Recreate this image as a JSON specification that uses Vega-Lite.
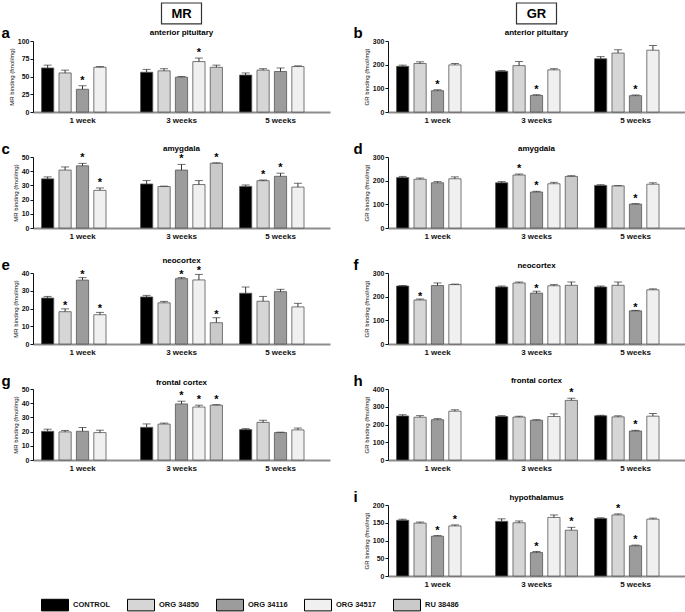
{
"$schema":"https://vega.github.io/schema/vega-lite/v6.json",
"padding":{"left":1,"top":2,"right":1,"bottom":0},
"background":"white",
"datasets":{
"panels":[
{"panel":"a","tissue":"anterior pituitary","receptor":"MR"},
{"panel":"b","tissue":"anterior pituitary","receptor":"GR"},
{"panel":"c","tissue":"amygdala","receptor":"MR"},
{"panel":"d","tissue":"amygdala","receptor":"GR"},
{"panel":"e","tissue":"neocortex","receptor":"MR"},
{"panel":"f","tissue":"neocortex","receptor":"GR"},
{"panel":"g","tissue":"frontal cortex","receptor":"MR"},
{"panel":"h","tissue":"frontal cortex","receptor":"GR"},
{"panel":"i","tissue":"hypothalamus","receptor":"GR"}
],
"bars":[
{"panel":"a","week":"1 week","group":"CONTROL","value":62,"err":66,"sig":""},
{"panel":"a","week":"1 week","group":"ORG 34850","value":55,"err":59,"sig":""},
{"panel":"a","week":"1 week","group":"ORG 34116","value":32,"err":37,"sig":"*"},
{"panel":"a","week":"1 week","group":"ORG 34517","value":63,"err":64,"sig":""},
{"panel":"a","week":"3 weeks","group":"CONTROL","value":56,"err":60,"sig":""},
{"panel":"a","week":"3 weeks","group":"ORG 34850","value":58,"err":61,"sig":""},
{"panel":"a","week":"3 weeks","group":"ORG 34116","value":49,"err":50,"sig":""},
{"panel":"a","week":"3 weeks","group":"ORG 34517","value":71,"err":76,"sig":"*"},
{"panel":"a","week":"3 weeks","group":"RU 38486","value":63,"err":66,"sig":""},
{"panel":"a","week":"5 weeks","group":"CONTROL","value":52,"err":55,"sig":""},
{"panel":"a","week":"5 weeks","group":"ORG 34850","value":59,"err":61,"sig":""},
{"panel":"a","week":"5 weeks","group":"ORG 34116","value":57,"err":62,"sig":""},
{"panel":"a","week":"5 weeks","group":"ORG 34517","value":64,"err":65,"sig":""},
{"panel":"b","week":"1 week","group":"CONTROL","value":193,"err":198,"sig":""},
{"panel":"b","week":"1 week","group":"ORG 34850","value":205,"err":212,"sig":""},
{"panel":"b","week":"1 week","group":"ORG 34116","value":90,"err":94,"sig":"*"},
{"panel":"b","week":"1 week","group":"ORG 34517","value":199,"err":205,"sig":""},
{"panel":"b","week":"3 weeks","group":"CONTROL","value":172,"err":175,"sig":""},
{"panel":"b","week":"3 weeks","group":"ORG 34850","value":196,"err":213,"sig":""},
{"panel":"b","week":"3 weeks","group":"ORG 34116","value":70,"err":73,"sig":"*"},
{"panel":"b","week":"3 weeks","group":"ORG 34517","value":178,"err":183,"sig":""},
{"panel":"b","week":"5 weeks","group":"CONTROL","value":225,"err":234,"sig":""},
{"panel":"b","week":"5 weeks","group":"ORG 34850","value":249,"err":263,"sig":""},
{"panel":"b","week":"5 weeks","group":"ORG 34116","value":69,"err":72,"sig":"*"},
{"panel":"b","week":"5 weeks","group":"ORG 34517","value":261,"err":281,"sig":""},
{"panel":"c","week":"1 week","group":"CONTROL","value":34.6,"err":36,"sig":""},
{"panel":"c","week":"1 week","group":"ORG 34850","value":40.8,"err":43,"sig":""},
{"panel":"c","week":"1 week","group":"ORG 34116","value":43.8,"err":45.5,"sig":"*"},
{"panel":"c","week":"1 week","group":"ORG 34517","value":26.5,"err":28.2,"sig":"*"},
{"panel":"c","week":"3 weeks","group":"CONTROL","value":31,"err":33.4,"sig":""},
{"panel":"c","week":"3 weeks","group":"ORG 34850","value":29.2,"err":29.5,"sig":""},
{"panel":"c","week":"3 weeks","group":"ORG 34116","value":40.8,"err":44.8,"sig":"*"},
{"panel":"c","week":"3 weeks","group":"ORG 34517","value":30.6,"err":33.4,"sig":""},
{"panel":"c","week":"3 weeks","group":"RU 38486","value":45.6,"err":45.9,"sig":"*"},
{"panel":"c","week":"5 weeks","group":"CONTROL","value":29.3,"err":30.3,"sig":""},
{"panel":"c","week":"5 weeks","group":"ORG 34850","value":33.3,"err":33.8,"sig":"*"},
{"panel":"c","week":"5 weeks","group":"ORG 34116","value":36.4,"err":38.6,"sig":"*"},
{"panel":"c","week":"5 weeks","group":"ORG 34517","value":28.8,"err":31.5,"sig":""},
{"panel":"d","week":"1 week","group":"CONTROL","value":213,"err":218,"sig":""},
{"panel":"d","week":"1 week","group":"ORG 34850","value":206,"err":211,"sig":""},
{"panel":"d","week":"1 week","group":"ORG 34116","value":191,"err":196,"sig":""},
{"panel":"d","week":"1 week","group":"ORG 34517","value":208,"err":216,"sig":""},
{"panel":"d","week":"3 weeks","group":"CONTROL","value":191,"err":196,"sig":""},
{"panel":"d","week":"3 weeks","group":"ORG 34850","value":224,"err":228,"sig":"*"},
{"panel":"d","week":"3 weeks","group":"ORG 34116","value":152,"err":155,"sig":"*"},
{"panel":"d","week":"3 weeks","group":"ORG 34517","value":187,"err":193,"sig":""},
{"panel":"d","week":"3 weeks","group":"RU 38486","value":218,"err":221,"sig":""},
{"panel":"d","week":"5 weeks","group":"CONTROL","value":180,"err":183,"sig":""},
{"panel":"d","week":"5 weeks","group":"ORG 34850","value":178,"err":179,"sig":""},
{"panel":"d","week":"5 weeks","group":"ORG 34116","value":101,"err":103,"sig":"*"},
{"panel":"d","week":"5 weeks","group":"ORG 34517","value":185,"err":191,"sig":""},
{"panel":"e","week":"1 week","group":"CONTROL","value":25.9,"err":26.8,"sig":""},
{"panel":"e","week":"1 week","group":"ORG 34850","value":18.2,"err":19.8,"sig":"*"},
{"panel":"e","week":"1 week","group":"ORG 34116","value":36,"err":37.4,"sig":"*"},
{"panel":"e","week":"1 week","group":"ORG 34517","value":16.5,"err":17.8,"sig":"*"},
{"panel":"e","week":"3 weeks","group":"CONTROL","value":26.5,"err":27.4,"sig":""},
{"panel":"e","week":"3 weeks","group":"ORG 34850","value":23.2,"err":24,"sig":""},
{"panel":"e","week":"3 weeks","group":"ORG 34116","value":36.8,"err":37.4,"sig":"*"},
{"panel":"e","week":"3 weeks","group":"ORG 34517","value":36.1,"err":39.2,"sig":"*"},
{"panel":"e","week":"3 weeks","group":"RU 38486","value":12,"err":14.8,"sig":"*"},
{"panel":"e","week":"5 weeks","group":"CONTROL","value":28.6,"err":32.1,"sig":""},
{"panel":"e","week":"5 weeks","group":"ORG 34850","value":24.1,"err":26.8,"sig":""},
{"panel":"e","week":"5 weeks","group":"ORG 34116","value":29.5,"err":30.8,"sig":""},
{"panel":"e","week":"5 weeks","group":"ORG 34517","value":20.9,"err":22.9,"sig":""},
{"panel":"f","week":"1 week","group":"CONTROL","value":245,"err":247,"sig":""},
{"panel":"f","week":"1 week","group":"ORG 34850","value":186,"err":190,"sig":"*"},
{"panel":"f","week":"1 week","group":"ORG 34116","value":247,"err":258,"sig":""},
{"panel":"f","week":"1 week","group":"ORG 34517","value":251,"err":253,"sig":""},
{"panel":"f","week":"3 weeks","group":"CONTROL","value":241,"err":245,"sig":""},
{"panel":"f","week":"3 weeks","group":"ORG 34850","value":258,"err":262,"sig":""},
{"panel":"f","week":"3 weeks","group":"ORG 34116","value":215,"err":223,"sig":"*"},
{"panel":"f","week":"3 weeks","group":"ORG 34517","value":246,"err":251,"sig":""},
{"panel":"f","week":"3 weeks","group":"RU 38486","value":248,"err":262,"sig":""},
{"panel":"f","week":"5 weeks","group":"CONTROL","value":241,"err":245,"sig":""},
{"panel":"f","week":"5 weeks","group":"ORG 34850","value":248,"err":262,"sig":""},
{"panel":"f","week":"5 weeks","group":"ORG 34116","value":140,"err":142,"sig":"*"},
{"panel":"f","week":"5 weeks","group":"ORG 34517","value":229,"err":233,"sig":""},
{"panel":"g","week":"1 week","group":"CONTROL","value":20.2,"err":21.7,"sig":""},
{"panel":"g","week":"1 week","group":"ORG 34850","value":19.8,"err":20.8,"sig":""},
{"panel":"g","week":"1 week","group":"ORG 34116","value":20.2,"err":22.9,"sig":""},
{"panel":"g","week":"1 week","group":"ORG 34517","value":19.3,"err":21,"sig":""},
{"panel":"g","week":"3 weeks","group":"CONTROL","value":23,"err":25.4,"sig":""},
{"panel":"g","week":"3 weeks","group":"ORG 34850","value":25.3,"err":26,"sig":""},
{"panel":"g","week":"3 weeks","group":"ORG 34116","value":39.5,"err":41.4,"sig":"*"},
{"panel":"g","week":"3 weeks","group":"ORG 34517","value":37.3,"err":38.6,"sig":"*"},
{"panel":"g","week":"3 weeks","group":"RU 38486","value":38.6,"err":39,"sig":"*"},
{"panel":"g","week":"5 weeks","group":"CONTROL","value":21.4,"err":22.1,"sig":""},
{"panel":"g","week":"5 weeks","group":"ORG 34850","value":26.5,"err":28,"sig":""},
{"panel":"g","week":"5 weeks","group":"ORG 34116","value":19.3,"err":19.6,"sig":""},
{"panel":"g","week":"5 weeks","group":"ORG 34517","value":21.2,"err":22.5,"sig":""},
{"panel":"h","week":"1 week","group":"CONTROL","value":248,"err":255,"sig":""},
{"panel":"h","week":"1 week","group":"ORG 34850","value":241,"err":250,"sig":""},
{"panel":"h","week":"1 week","group":"ORG 34116","value":227,"err":233,"sig":""},
{"panel":"h","week":"1 week","group":"ORG 34517","value":275,"err":283,"sig":""},
{"panel":"h","week":"3 weeks","group":"CONTROL","value":245,"err":250,"sig":""},
{"panel":"h","week":"3 weeks","group":"ORG 34850","value":242,"err":246,"sig":""},
{"panel":"h","week":"3 weeks","group":"ORG 34116","value":224,"err":227,"sig":""},
{"panel":"h","week":"3 weeks","group":"ORG 34517","value":245,"err":260,"sig":""},
{"panel":"h","week":"3 weeks","group":"RU 38486","value":336,"err":348,"sig":"*"},
{"panel":"h","week":"5 weeks","group":"CONTROL","value":249,"err":252,"sig":""},
{"panel":"h","week":"5 weeks","group":"ORG 34850","value":243,"err":249,"sig":""},
{"panel":"h","week":"5 weeks","group":"ORG 34116","value":163,"err":167,"sig":"*"},
{"panel":"h","week":"5 weeks","group":"ORG 34517","value":247,"err":262,"sig":""},
{"panel":"i","week":"1 week","group":"CONTROL","value":157,"err":160,"sig":""},
{"panel":"i","week":"1 week","group":"ORG 34850","value":149,"err":152,"sig":""},
{"panel":"i","week":"1 week","group":"ORG 34116","value":112,"err":114,"sig":"*"},
{"panel":"i","week":"1 week","group":"ORG 34517","value":141,"err":144,"sig":"*"},
{"panel":"i","week":"3 weeks","group":"CONTROL","value":154,"err":161,"sig":""},
{"panel":"i","week":"3 weeks","group":"ORG 34850","value":150,"err":155,"sig":""},
{"panel":"i","week":"3 weeks","group":"ORG 34116","value":66,"err":69,"sig":"*"},
{"panel":"i","week":"3 weeks","group":"ORG 34517","value":165,"err":172,"sig":""},
{"panel":"i","week":"3 weeks","group":"RU 38486","value":129,"err":137,"sig":"*"},
{"panel":"i","week":"5 weeks","group":"CONTROL","value":162,"err":164,"sig":""},
{"panel":"i","week":"5 weeks","group":"ORG 34850","value":172,"err":175,"sig":"*"},
{"panel":"i","week":"5 weeks","group":"ORG 34116","value":85,"err":87,"sig":"*"},
{"panel":"i","week":"5 weeks","group":"ORG 34517","value":160,"err":163,"sig":""}
]},
"columns":2,
"spacing":{"row":45,"column":58},
"bounds":"flush",
"resolve":{"scale":{"y":"independent","x":"independent","xOffset":"independent"}},
"concat":[
{"width":297,"height":71,"layer":[
 {"data":{"name":"bars"},"transform":[{"filter":"datum.panel==='a'"}],"mark":{"type":"bar","stroke":"#555","strokeWidth":0.8},"encoding":{"x":{"field":"week","type":"nominal","title":null,"scale":{"domain":["1 week","3 weeks","5 weeks"],"paddingInner":0.12,"paddingOuter":0.06}},"xOffset":{"field":"group","type":"nominal","scale":{"domain":["CONTROL","ORG 34850","ORG 34116","ORG 34517","RU 38486"],"paddingInner":0.3,"paddingOuter":0.15}},"y":{"field":"value","type":"quantitative","title":"MR binding (fmol/mg)","scale":{"domain":[0,100],"nice":false},"axis":{"values":[0,25,50,75,100]}},"fill":{"field":"group","type":"nominal","title":null,"scale":{"domain":["CONTROL","ORG 34850","ORG 34116","ORG 34517","RU 38486"],"range":["#000000","#d6d6d6","#9c9c9c","#f0f0f0","#cacaca"]}}}},
 {"data":{"name":"bars"},"transform":[{"filter":"datum.panel==='a'"}],"mark":{"type":"rule","color":"#333","strokeWidth":1},"encoding":{"x":{"field":"week","type":"nominal","title":null},"xOffset":{"field":"group","type":"nominal"},"y":{"field":"value","type":"quantitative","title":"MR binding (fmol/mg)","axis":{"values":[0,25,50,75,100]}},"y2":{"field":"err"}}},
 {"data":{"name":"bars"},"transform":[{"filter":"datum.panel==='a'"}],"mark":{"type":"tick","color":"#333","thickness":1,"size":8},"encoding":{"x":{"field":"week","type":"nominal","title":null},"xOffset":{"field":"group","type":"nominal"},"y":{"field":"err","type":"quantitative","title":"MR binding (fmol/mg)","axis":{"values":[0,25,50,75,100]}}}},
 {"data":{"name":"bars"},"transform":[{"filter":"datum.panel==='a' && datum.sig==='*'"}],"mark":{"type":"text","fontSize":11,"fontWeight":"bold","dy":-2,"baseline":"alphabetic"},"encoding":{"x":{"field":"week","type":"nominal","title":null},"xOffset":{"field":"group","type":"nominal"},"y":{"field":"err","type":"quantitative","title":"MR binding (fmol/mg)","axis":{"values":[0,25,50,75,100]}},"text":{"field":"sig"}}},
 {"data":{"name":"panels"},"transform":[{"filter":"datum.panel==='a'"}],"mark":{"type":"text","fontSize":8,"fontWeight":"bold","dy":-6,"baseline":"alphabetic"},"encoding":{"x":{"datum":"3 weeks"},"y":{"datum":100,"axis":{"values":[0,25,50,75,100]}},"text":{"field":"tissue"}}},
 {"data":{"name":"panels"},"transform":[{"filter":"datum.panel==='a'"}],"mark":{"type":"text","fontSize":15,"fontWeight":"bold","align":"left","baseline":"alphabetic","dx":-81,"dy":-3},"encoding":{"x":{"datum":"1 week"},"y":{"datum":100,"axis":{"values":[0,25,50,75,100]}},"text":{"field":"panel"}}},
 {"data":{"name":"panels"},"transform":[{"filter":"datum.panel==='a'"}],"mark":{"type":"bar","width":40,"fill":"white","stroke":"#333","strokeWidth":1.2},"encoding":{"x":{"datum":"3 weeks"},"y":{"datum":124,"axis":{"values":[0,25,50,75,100]}},"y2":{"datum":153.5}}},
 {"data":{"name":"panels"},"transform":[{"filter":"datum.panel==='a'"}],"mark":{"type":"text","fontSize":13,"fontWeight":"bold","baseline":"middle"},"encoding":{"x":{"datum":"3 weeks"},"y":{"datum":138,"axis":{"values":[0,25,50,75,100]}},"text":{"field":"receptor"}}}
]},
{"width":297,"height":71,"layer":[
 {"data":{"name":"bars"},"transform":[{"filter":"datum.panel==='b'"}],"mark":{"type":"bar","stroke":"#555","strokeWidth":0.8},"encoding":{"x":{"field":"week","type":"nominal","title":null,"scale":{"domain":["1 week","3 weeks","5 weeks"],"paddingInner":0.12,"paddingOuter":0.06}},"xOffset":{"field":"group","type":"nominal","scale":{"domain":["CONTROL","ORG 34850","ORG 34116","ORG 34517","RU 38486"],"paddingInner":0.3,"paddingOuter":0.15}},"y":{"field":"value","type":"quantitative","title":"GR binding (fmol/mg)","scale":{"domain":[0,300],"nice":false},"axis":{"values":[0,100,200,300]}},"fill":{"field":"group","type":"nominal","title":null,"scale":{"domain":["CONTROL","ORG 34850","ORG 34116","ORG 34517","RU 38486"],"range":["#000000","#d6d6d6","#9c9c9c","#f0f0f0","#cacaca"]}}}},
 {"data":{"name":"bars"},"transform":[{"filter":"datum.panel==='b'"}],"mark":{"type":"rule","color":"#333","strokeWidth":1},"encoding":{"x":{"field":"week","type":"nominal","title":null},"xOffset":{"field":"group","type":"nominal"},"y":{"field":"value","type":"quantitative","title":"GR binding (fmol/mg)","axis":{"values":[0,100,200,300]}},"y2":{"field":"err"}}},
 {"data":{"name":"bars"},"transform":[{"filter":"datum.panel==='b'"}],"mark":{"type":"tick","color":"#333","thickness":1,"size":8},"encoding":{"x":{"field":"week","type":"nominal","title":null},"xOffset":{"field":"group","type":"nominal"},"y":{"field":"err","type":"quantitative","title":"GR binding (fmol/mg)","axis":{"values":[0,100,200,300]}}}},
 {"data":{"name":"bars"},"transform":[{"filter":"datum.panel==='b' && datum.sig==='*'"}],"mark":{"type":"text","fontSize":11,"fontWeight":"bold","dy":-2,"baseline":"alphabetic"},"encoding":{"x":{"field":"week","type":"nominal","title":null},"xOffset":{"field":"group","type":"nominal"},"y":{"field":"err","type":"quantitative","title":"GR binding (fmol/mg)","axis":{"values":[0,100,200,300]}},"text":{"field":"sig"}}},
 {"data":{"name":"panels"},"transform":[{"filter":"datum.panel==='b'"}],"mark":{"type":"text","fontSize":8,"fontWeight":"bold","dy":-6,"baseline":"alphabetic"},"encoding":{"x":{"datum":"3 weeks"},"y":{"datum":300,"axis":{"values":[0,100,200,300]}},"text":{"field":"tissue"}}},
 {"data":{"name":"panels"},"transform":[{"filter":"datum.panel==='b'"}],"mark":{"type":"text","fontSize":15,"fontWeight":"bold","align":"left","baseline":"alphabetic","dx":-84,"dy":-3},"encoding":{"x":{"datum":"1 week"},"y":{"datum":300,"axis":{"values":[0,100,200,300]}},"text":{"field":"panel"}}},
 {"data":{"name":"panels"},"transform":[{"filter":"datum.panel==='b'"}],"mark":{"type":"bar","width":40,"fill":"white","stroke":"#333","strokeWidth":1.2},"encoding":{"x":{"datum":"3 weeks"},"y":{"datum":372,"axis":{"values":[0,100,200,300]}},"y2":{"datum":460.6}}},
 {"data":{"name":"panels"},"transform":[{"filter":"datum.panel==='b'"}],"mark":{"type":"text","fontSize":13,"fontWeight":"bold","baseline":"middle"},"encoding":{"x":{"datum":"3 weeks"},"y":{"datum":414,"axis":{"values":[0,100,200,300]}},"text":{"field":"receptor"}}}
]},
{"width":297,"height":71,"layer":[
 {"data":{"name":"bars"},"transform":[{"filter":"datum.panel==='c'"}],"mark":{"type":"bar","stroke":"#555","strokeWidth":0.8},"encoding":{"x":{"field":"week","type":"nominal","title":null,"scale":{"domain":["1 week","3 weeks","5 weeks"],"paddingInner":0.12,"paddingOuter":0.06}},"xOffset":{"field":"group","type":"nominal","scale":{"domain":["CONTROL","ORG 34850","ORG 34116","ORG 34517","RU 38486"],"paddingInner":0.3,"paddingOuter":0.15}},"y":{"field":"value","type":"quantitative","title":"MR binding (fmol/mg)","scale":{"domain":[0,50],"nice":false},"axis":{"values":[0,10,20,30,40,50]}},"fill":{"field":"group","type":"nominal","title":null,"scale":{"domain":["CONTROL","ORG 34850","ORG 34116","ORG 34517","RU 38486"],"range":["#000000","#d6d6d6","#9c9c9c","#f0f0f0","#cacaca"]}}}},
 {"data":{"name":"bars"},"transform":[{"filter":"datum.panel==='c'"}],"mark":{"type":"rule","color":"#333","strokeWidth":1},"encoding":{"x":{"field":"week","type":"nominal","title":null},"xOffset":{"field":"group","type":"nominal"},"y":{"field":"value","type":"quantitative","title":"MR binding (fmol/mg)","axis":{"values":[0,10,20,30,40,50]}},"y2":{"field":"err"}}},
 {"data":{"name":"bars"},"transform":[{"filter":"datum.panel==='c'"}],"mark":{"type":"tick","color":"#333","thickness":1,"size":8},"encoding":{"x":{"field":"week","type":"nominal","title":null},"xOffset":{"field":"group","type":"nominal"},"y":{"field":"err","type":"quantitative","title":"MR binding (fmol/mg)","axis":{"values":[0,10,20,30,40,50]}}}},
 {"data":{"name":"bars"},"transform":[{"filter":"datum.panel==='c' && datum.sig==='*'"}],"mark":{"type":"text","fontSize":11,"fontWeight":"bold","dy":-2,"baseline":"alphabetic"},"encoding":{"x":{"field":"week","type":"nominal","title":null},"xOffset":{"field":"group","type":"nominal"},"y":{"field":"err","type":"quantitative","title":"MR binding (fmol/mg)","axis":{"values":[0,10,20,30,40,50]}},"text":{"field":"sig"}}},
 {"data":{"name":"panels"},"transform":[{"filter":"datum.panel==='c'"}],"mark":{"type":"text","fontSize":8,"fontWeight":"bold","dy":-6,"baseline":"alphabetic"},"encoding":{"x":{"datum":"3 weeks"},"y":{"datum":50,"axis":{"values":[0,10,20,30,40,50]}},"text":{"field":"tissue"}}},
 {"data":{"name":"panels"},"transform":[{"filter":"datum.panel==='c'"}],"mark":{"type":"text","fontSize":15,"fontWeight":"bold","align":"left","baseline":"alphabetic","dx":-81,"dy":-3},"encoding":{"x":{"datum":"1 week"},"y":{"datum":50,"axis":{"values":[0,10,20,30,40,50]}},"text":{"field":"panel"}}}
]},
{"width":297,"height":71,"layer":[
 {"data":{"name":"bars"},"transform":[{"filter":"datum.panel==='d'"}],"mark":{"type":"bar","stroke":"#555","strokeWidth":0.8},"encoding":{"x":{"field":"week","type":"nominal","title":null,"scale":{"domain":["1 week","3 weeks","5 weeks"],"paddingInner":0.12,"paddingOuter":0.06}},"xOffset":{"field":"group","type":"nominal","scale":{"domain":["CONTROL","ORG 34850","ORG 34116","ORG 34517","RU 38486"],"paddingInner":0.3,"paddingOuter":0.15}},"y":{"field":"value","type":"quantitative","title":"GR binding (fmol/mg)","scale":{"domain":[0,300],"nice":false},"axis":{"values":[0,100,200,300]}},"fill":{"field":"group","type":"nominal","title":null,"scale":{"domain":["CONTROL","ORG 34850","ORG 34116","ORG 34517","RU 38486"],"range":["#000000","#d6d6d6","#9c9c9c","#f0f0f0","#cacaca"]}}}},
 {"data":{"name":"bars"},"transform":[{"filter":"datum.panel==='d'"}],"mark":{"type":"rule","color":"#333","strokeWidth":1},"encoding":{"x":{"field":"week","type":"nominal","title":null},"xOffset":{"field":"group","type":"nominal"},"y":{"field":"value","type":"quantitative","title":"GR binding (fmol/mg)","axis":{"values":[0,100,200,300]}},"y2":{"field":"err"}}},
 {"data":{"name":"bars"},"transform":[{"filter":"datum.panel==='d'"}],"mark":{"type":"tick","color":"#333","thickness":1,"size":8},"encoding":{"x":{"field":"week","type":"nominal","title":null},"xOffset":{"field":"group","type":"nominal"},"y":{"field":"err","type":"quantitative","title":"GR binding (fmol/mg)","axis":{"values":[0,100,200,300]}}}},
 {"data":{"name":"bars"},"transform":[{"filter":"datum.panel==='d' && datum.sig==='*'"}],"mark":{"type":"text","fontSize":11,"fontWeight":"bold","dy":-2,"baseline":"alphabetic"},"encoding":{"x":{"field":"week","type":"nominal","title":null},"xOffset":{"field":"group","type":"nominal"},"y":{"field":"err","type":"quantitative","title":"GR binding (fmol/mg)","axis":{"values":[0,100,200,300]}},"text":{"field":"sig"}}},
 {"data":{"name":"panels"},"transform":[{"filter":"datum.panel==='d'"}],"mark":{"type":"text","fontSize":8,"fontWeight":"bold","dy":-6,"baseline":"alphabetic"},"encoding":{"x":{"datum":"3 weeks"},"y":{"datum":300,"axis":{"values":[0,100,200,300]}},"text":{"field":"tissue"}}},
 {"data":{"name":"panels"},"transform":[{"filter":"datum.panel==='d'"}],"mark":{"type":"text","fontSize":15,"fontWeight":"bold","align":"left","baseline":"alphabetic","dx":-84,"dy":-3},"encoding":{"x":{"datum":"1 week"},"y":{"datum":300,"axis":{"values":[0,100,200,300]}},"text":{"field":"panel"}}}
]},
{"width":297,"height":71,"layer":[
 {"data":{"name":"bars"},"transform":[{"filter":"datum.panel==='e'"}],"mark":{"type":"bar","stroke":"#555","strokeWidth":0.8},"encoding":{"x":{"field":"week","type":"nominal","title":null,"scale":{"domain":["1 week","3 weeks","5 weeks"],"paddingInner":0.12,"paddingOuter":0.06}},"xOffset":{"field":"group","type":"nominal","scale":{"domain":["CONTROL","ORG 34850","ORG 34116","ORG 34517","RU 38486"],"paddingInner":0.3,"paddingOuter":0.15}},"y":{"field":"value","type":"quantitative","title":"MR binding (fmol/mg)","scale":{"domain":[0,40],"nice":false},"axis":{"values":[0,10,20,30,40]}},"fill":{"field":"group","type":"nominal","title":null,"scale":{"domain":["CONTROL","ORG 34850","ORG 34116","ORG 34517","RU 38486"],"range":["#000000","#d6d6d6","#9c9c9c","#f0f0f0","#cacaca"]}}}},
 {"data":{"name":"bars"},"transform":[{"filter":"datum.panel==='e'"}],"mark":{"type":"rule","color":"#333","strokeWidth":1},"encoding":{"x":{"field":"week","type":"nominal","title":null},"xOffset":{"field":"group","type":"nominal"},"y":{"field":"value","type":"quantitative","title":"MR binding (fmol/mg)","axis":{"values":[0,10,20,30,40]}},"y2":{"field":"err"}}},
 {"data":{"name":"bars"},"transform":[{"filter":"datum.panel==='e'"}],"mark":{"type":"tick","color":"#333","thickness":1,"size":8},"encoding":{"x":{"field":"week","type":"nominal","title":null},"xOffset":{"field":"group","type":"nominal"},"y":{"field":"err","type":"quantitative","title":"MR binding (fmol/mg)","axis":{"values":[0,10,20,30,40]}}}},
 {"data":{"name":"bars"},"transform":[{"filter":"datum.panel==='e' && datum.sig==='*'"}],"mark":{"type":"text","fontSize":11,"fontWeight":"bold","dy":0,"baseline":"alphabetic"},"encoding":{"x":{"field":"week","type":"nominal","title":null},"xOffset":{"field":"group","type":"nominal"},"y":{"field":"err","type":"quantitative","title":"MR binding (fmol/mg)","axis":{"values":[0,10,20,30,40]}},"text":{"field":"sig"}}},
 {"data":{"name":"panels"},"transform":[{"filter":"datum.panel==='e'"}],"mark":{"type":"text","fontSize":8,"fontWeight":"bold","dy":-10,"baseline":"alphabetic"},"encoding":{"x":{"datum":"3 weeks"},"y":{"datum":40,"axis":{"values":[0,10,20,30,40]}},"text":{"field":"tissue"}}},
 {"data":{"name":"panels"},"transform":[{"filter":"datum.panel==='e'"}],"mark":{"type":"text","fontSize":15,"fontWeight":"bold","align":"left","baseline":"alphabetic","dx":-81,"dy":-3},"encoding":{"x":{"datum":"1 week"},"y":{"datum":40,"axis":{"values":[0,10,20,30,40]}},"text":{"field":"panel"}}}
]},
{"width":297,"height":71,"layer":[
 {"data":{"name":"bars"},"transform":[{"filter":"datum.panel==='f'"}],"mark":{"type":"bar","stroke":"#555","strokeWidth":0.8},"encoding":{"x":{"field":"week","type":"nominal","title":null,"scale":{"domain":["1 week","3 weeks","5 weeks"],"paddingInner":0.12,"paddingOuter":0.06}},"xOffset":{"field":"group","type":"nominal","scale":{"domain":["CONTROL","ORG 34850","ORG 34116","ORG 34517","RU 38486"],"paddingInner":0.3,"paddingOuter":0.15}},"y":{"field":"value","type":"quantitative","title":"GR binding (fmol/mg)","scale":{"domain":[0,300],"nice":false},"axis":{"values":[0,100,200,300]}},"fill":{"field":"group","type":"nominal","title":null,"scale":{"domain":["CONTROL","ORG 34850","ORG 34116","ORG 34517","RU 38486"],"range":["#000000","#d6d6d6","#9c9c9c","#f0f0f0","#cacaca"]}}}},
 {"data":{"name":"bars"},"transform":[{"filter":"datum.panel==='f'"}],"mark":{"type":"rule","color":"#333","strokeWidth":1},"encoding":{"x":{"field":"week","type":"nominal","title":null},"xOffset":{"field":"group","type":"nominal"},"y":{"field":"value","type":"quantitative","title":"GR binding (fmol/mg)","axis":{"values":[0,100,200,300]}},"y2":{"field":"err"}}},
 {"data":{"name":"bars"},"transform":[{"filter":"datum.panel==='f'"}],"mark":{"type":"tick","color":"#333","thickness":1,"size":8},"encoding":{"x":{"field":"week","type":"nominal","title":null},"xOffset":{"field":"group","type":"nominal"},"y":{"field":"err","type":"quantitative","title":"GR binding (fmol/mg)","axis":{"values":[0,100,200,300]}}}},
 {"data":{"name":"bars"},"transform":[{"filter":"datum.panel==='f' && datum.sig==='*'"}],"mark":{"type":"text","fontSize":11,"fontWeight":"bold","dy":1,"baseline":"alphabetic"},"encoding":{"x":{"field":"week","type":"nominal","title":null},"xOffset":{"field":"group","type":"nominal"},"y":{"field":"err","type":"quantitative","title":"GR binding (fmol/mg)","axis":{"values":[0,100,200,300]}},"text":{"field":"sig"}}},
 {"data":{"name":"panels"},"transform":[{"filter":"datum.panel==='f'"}],"mark":{"type":"text","fontSize":8,"fontWeight":"bold","dy":-5,"baseline":"alphabetic"},"encoding":{"x":{"datum":"3 weeks"},"y":{"datum":300,"axis":{"values":[0,100,200,300]}},"text":{"field":"tissue"}}},
 {"data":{"name":"panels"},"transform":[{"filter":"datum.panel==='f'"}],"mark":{"type":"text","fontSize":15,"fontWeight":"bold","align":"left","baseline":"alphabetic","dx":-84,"dy":-3},"encoding":{"x":{"datum":"1 week"},"y":{"datum":300,"axis":{"values":[0,100,200,300]}},"text":{"field":"panel"}}}
]},
{"width":297,"height":71,"layer":[
 {"data":{"name":"bars"},"transform":[{"filter":"datum.panel==='g'"}],"mark":{"type":"bar","stroke":"#555","strokeWidth":0.8},"encoding":{"x":{"field":"week","type":"nominal","title":null,"scale":{"domain":["1 week","3 weeks","5 weeks"],"paddingInner":0.12,"paddingOuter":0.06}},"xOffset":{"field":"group","type":"nominal","scale":{"domain":["CONTROL","ORG 34850","ORG 34116","ORG 34517","RU 38486"],"paddingInner":0.3,"paddingOuter":0.15}},"y":{"field":"value","type":"quantitative","title":"MR binding (fmol/mg)","scale":{"domain":[0,50],"nice":false},"axis":{"values":[0,10,20,30,40,50]}},"fill":{"field":"group","type":"nominal","title":null,"scale":{"domain":["CONTROL","ORG 34850","ORG 34116","ORG 34517","RU 38486"],"range":["#000000","#d6d6d6","#9c9c9c","#f0f0f0","#cacaca"]}}}},
 {"data":{"name":"bars"},"transform":[{"filter":"datum.panel==='g'"}],"mark":{"type":"rule","color":"#333","strokeWidth":1},"encoding":{"x":{"field":"week","type":"nominal","title":null},"xOffset":{"field":"group","type":"nominal"},"y":{"field":"value","type":"quantitative","title":"MR binding (fmol/mg)","axis":{"values":[0,10,20,30,40,50]}},"y2":{"field":"err"}}},
 {"data":{"name":"bars"},"transform":[{"filter":"datum.panel==='g'"}],"mark":{"type":"tick","color":"#333","thickness":1,"size":8},"encoding":{"x":{"field":"week","type":"nominal","title":null},"xOffset":{"field":"group","type":"nominal"},"y":{"field":"err","type":"quantitative","title":"MR binding (fmol/mg)","axis":{"values":[0,10,20,30,40,50]}}}},
 {"data":{"name":"bars"},"transform":[{"filter":"datum.panel==='g' && datum.sig==='*'"}],"mark":{"type":"text","fontSize":11,"fontWeight":"bold","dy":-2,"baseline":"alphabetic"},"encoding":{"x":{"field":"week","type":"nominal","title":null},"xOffset":{"field":"group","type":"nominal"},"y":{"field":"err","type":"quantitative","title":"MR binding (fmol/mg)","axis":{"values":[0,10,20,30,40,50]}},"text":{"field":"sig"}}},
 {"data":{"name":"panels"},"transform":[{"filter":"datum.panel==='g'"}],"mark":{"type":"text","fontSize":8,"fontWeight":"bold","dy":-4,"baseline":"alphabetic"},"encoding":{"x":{"datum":"3 weeks"},"y":{"datum":50,"axis":{"values":[0,10,20,30,40,50]}},"text":{"field":"tissue"}}},
 {"data":{"name":"panels"},"transform":[{"filter":"datum.panel==='g'"}],"mark":{"type":"text","fontSize":15,"fontWeight":"bold","align":"left","baseline":"alphabetic","dx":-81,"dy":-3},"encoding":{"x":{"datum":"1 week"},"y":{"datum":50,"axis":{"values":[0,10,20,30,40,50]}},"text":{"field":"panel"}}}
]},
{"width":297,"height":71,"layer":[
 {"data":{"name":"bars"},"transform":[{"filter":"datum.panel==='h'"}],"mark":{"type":"bar","stroke":"#555","strokeWidth":0.8},"encoding":{"x":{"field":"week","type":"nominal","title":null,"scale":{"domain":["1 week","3 weeks","5 weeks"],"paddingInner":0.12,"paddingOuter":0.06}},"xOffset":{"field":"group","type":"nominal","scale":{"domain":["CONTROL","ORG 34850","ORG 34116","ORG 34517","RU 38486"],"paddingInner":0.3,"paddingOuter":0.15}},"y":{"field":"value","type":"quantitative","title":"GR binding (fmol/mg)","scale":{"domain":[0,400],"nice":false},"axis":{"values":[0,100,200,300,400]}},"fill":{"field":"group","type":"nominal","title":null,"scale":{"domain":["CONTROL","ORG 34850","ORG 34116","ORG 34517","RU 38486"],"range":["#000000","#d6d6d6","#9c9c9c","#f0f0f0","#cacaca"]}}}},
 {"data":{"name":"bars"},"transform":[{"filter":"datum.panel==='h'"}],"mark":{"type":"rule","color":"#333","strokeWidth":1},"encoding":{"x":{"field":"week","type":"nominal","title":null},"xOffset":{"field":"group","type":"nominal"},"y":{"field":"value","type":"quantitative","title":"GR binding (fmol/mg)","axis":{"values":[0,100,200,300,400]}},"y2":{"field":"err"}}},
 {"data":{"name":"bars"},"transform":[{"filter":"datum.panel==='h'"}],"mark":{"type":"tick","color":"#333","thickness":1,"size":8},"encoding":{"x":{"field":"week","type":"nominal","title":null},"xOffset":{"field":"group","type":"nominal"},"y":{"field":"err","type":"quantitative","title":"GR binding (fmol/mg)","axis":{"values":[0,100,200,300,400]}}}},
 {"data":{"name":"bars"},"transform":[{"filter":"datum.panel==='h' && datum.sig==='*'"}],"mark":{"type":"text","fontSize":11,"fontWeight":"bold","dy":-2,"baseline":"alphabetic"},"encoding":{"x":{"field":"week","type":"nominal","title":null},"xOffset":{"field":"group","type":"nominal"},"y":{"field":"err","type":"quantitative","title":"GR binding (fmol/mg)","axis":{"values":[0,100,200,300,400]}},"text":{"field":"sig"}}},
 {"data":{"name":"panels"},"transform":[{"filter":"datum.panel==='h'"}],"mark":{"type":"text","fontSize":8,"fontWeight":"bold","dy":-6,"baseline":"alphabetic"},"encoding":{"x":{"datum":"3 weeks"},"y":{"datum":400,"axis":{"values":[0,100,200,300,400]}},"text":{"field":"tissue"}}},
 {"data":{"name":"panels"},"transform":[{"filter":"datum.panel==='h'"}],"mark":{"type":"text","fontSize":15,"fontWeight":"bold","align":"left","baseline":"alphabetic","dx":-84,"dy":-3},"encoding":{"x":{"datum":"1 week"},"y":{"datum":400,"axis":{"values":[0,100,200,300,400]}},"text":{"field":"panel"}}}
]},
{"width":297,"height":71,"data":{"values":[{"blank":""}]},"mark":{"type":"text"},"encoding":{"text":{"field":"blank"}}},
{"width":297,"height":71,"layer":[
 {"data":{"name":"bars"},"transform":[{"filter":"datum.panel==='i'"}],"mark":{"type":"bar","stroke":"#555","strokeWidth":0.8},"encoding":{"x":{"field":"week","type":"nominal","title":null,"scale":{"domain":["1 week","3 weeks","5 weeks"],"paddingInner":0.12,"paddingOuter":0.06}},"xOffset":{"field":"group","type":"nominal","scale":{"domain":["CONTROL","ORG 34850","ORG 34116","ORG 34517","RU 38486"],"paddingInner":0.3,"paddingOuter":0.15}},"y":{"field":"value","type":"quantitative","title":"GR binding (fmol/mg)","scale":{"domain":[0,200],"nice":false},"axis":{"values":[0,50,100,150,200]}},"fill":{"field":"group","type":"nominal","title":null,"scale":{"domain":["CONTROL","ORG 34850","ORG 34116","ORG 34517","RU 38486"],"range":["#000000","#d6d6d6","#9c9c9c","#f0f0f0","#cacaca"]}}}},
 {"data":{"name":"bars"},"transform":[{"filter":"datum.panel==='i'"}],"mark":{"type":"rule","color":"#333","strokeWidth":1},"encoding":{"x":{"field":"week","type":"nominal","title":null},"xOffset":{"field":"group","type":"nominal"},"y":{"field":"value","type":"quantitative","title":"GR binding (fmol/mg)","axis":{"values":[0,50,100,150,200]}},"y2":{"field":"err"}}},
 {"data":{"name":"bars"},"transform":[{"filter":"datum.panel==='i'"}],"mark":{"type":"tick","color":"#333","thickness":1,"size":8},"encoding":{"x":{"field":"week","type":"nominal","title":null},"xOffset":{"field":"group","type":"nominal"},"y":{"field":"err","type":"quantitative","title":"GR binding (fmol/mg)","axis":{"values":[0,50,100,150,200]}}}},
 {"data":{"name":"bars"},"transform":[{"filter":"datum.panel==='i' && datum.sig==='*'"}],"mark":{"type":"text","fontSize":11,"fontWeight":"bold","dy":-2,"baseline":"alphabetic"},"encoding":{"x":{"field":"week","type":"nominal","title":null},"xOffset":{"field":"group","type":"nominal"},"y":{"field":"err","type":"quantitative","title":"GR binding (fmol/mg)","axis":{"values":[0,50,100,150,200]}},"text":{"field":"sig"}}},
 {"data":{"name":"panels"},"transform":[{"filter":"datum.panel==='i'"}],"mark":{"type":"text","fontSize":8,"fontWeight":"bold","dy":-5,"baseline":"alphabetic"},"encoding":{"x":{"datum":"3 weeks"},"y":{"datum":200,"axis":{"values":[0,50,100,150,200]}},"text":{"field":"tissue"}}},
 {"data":{"name":"panels"},"transform":[{"filter":"datum.panel==='i'"}],"mark":{"type":"text","fontSize":15,"fontWeight":"bold","align":"left","baseline":"alphabetic","dx":-84,"dy":-3},"encoding":{"x":{"datum":"1 week"},"y":{"datum":200,"axis":{"values":[0,50,100,150,200]}},"text":{"field":"panel"}}}
]}
],
"config":{
 "font":"Liberation Sans",
 "view":{"stroke":null},
 "axisX":{"domainColor":"#8c8c8c","domainWidth":2,"ticks":false,"labelFontSize":8,"labelFontWeight":"bold","labelColor":"#111","labelPadding":4,"grid":false,"labelAngle":0},
 "axisY":{"domainColor":"#111","domainWidth":1,"tickColor":"#111","tickSize":3,"labelFontSize":7,"labelFontWeight":"bold","labelColor":"#111","labelPadding":1,"labelOverlap":false,"titleFontSize":6,"titleFontWeight":"normal","titleColor":"#111","titlePadding":3,"grid":false},
 "legend":{"orient":"none","legendX":8,"legendY":550,"direction":"horizontal","symbolType":"M-1,-0.43H1V0.43H-1Z","symbolSize":729,"symbolStrokeColor":"#000","symbolStrokeWidth":1,"labelFontSize":7.5,"labelFontWeight":"bold","labelColor":"#111","labelOffset":4,"columnPadding":14,"padding":0}
}
}
